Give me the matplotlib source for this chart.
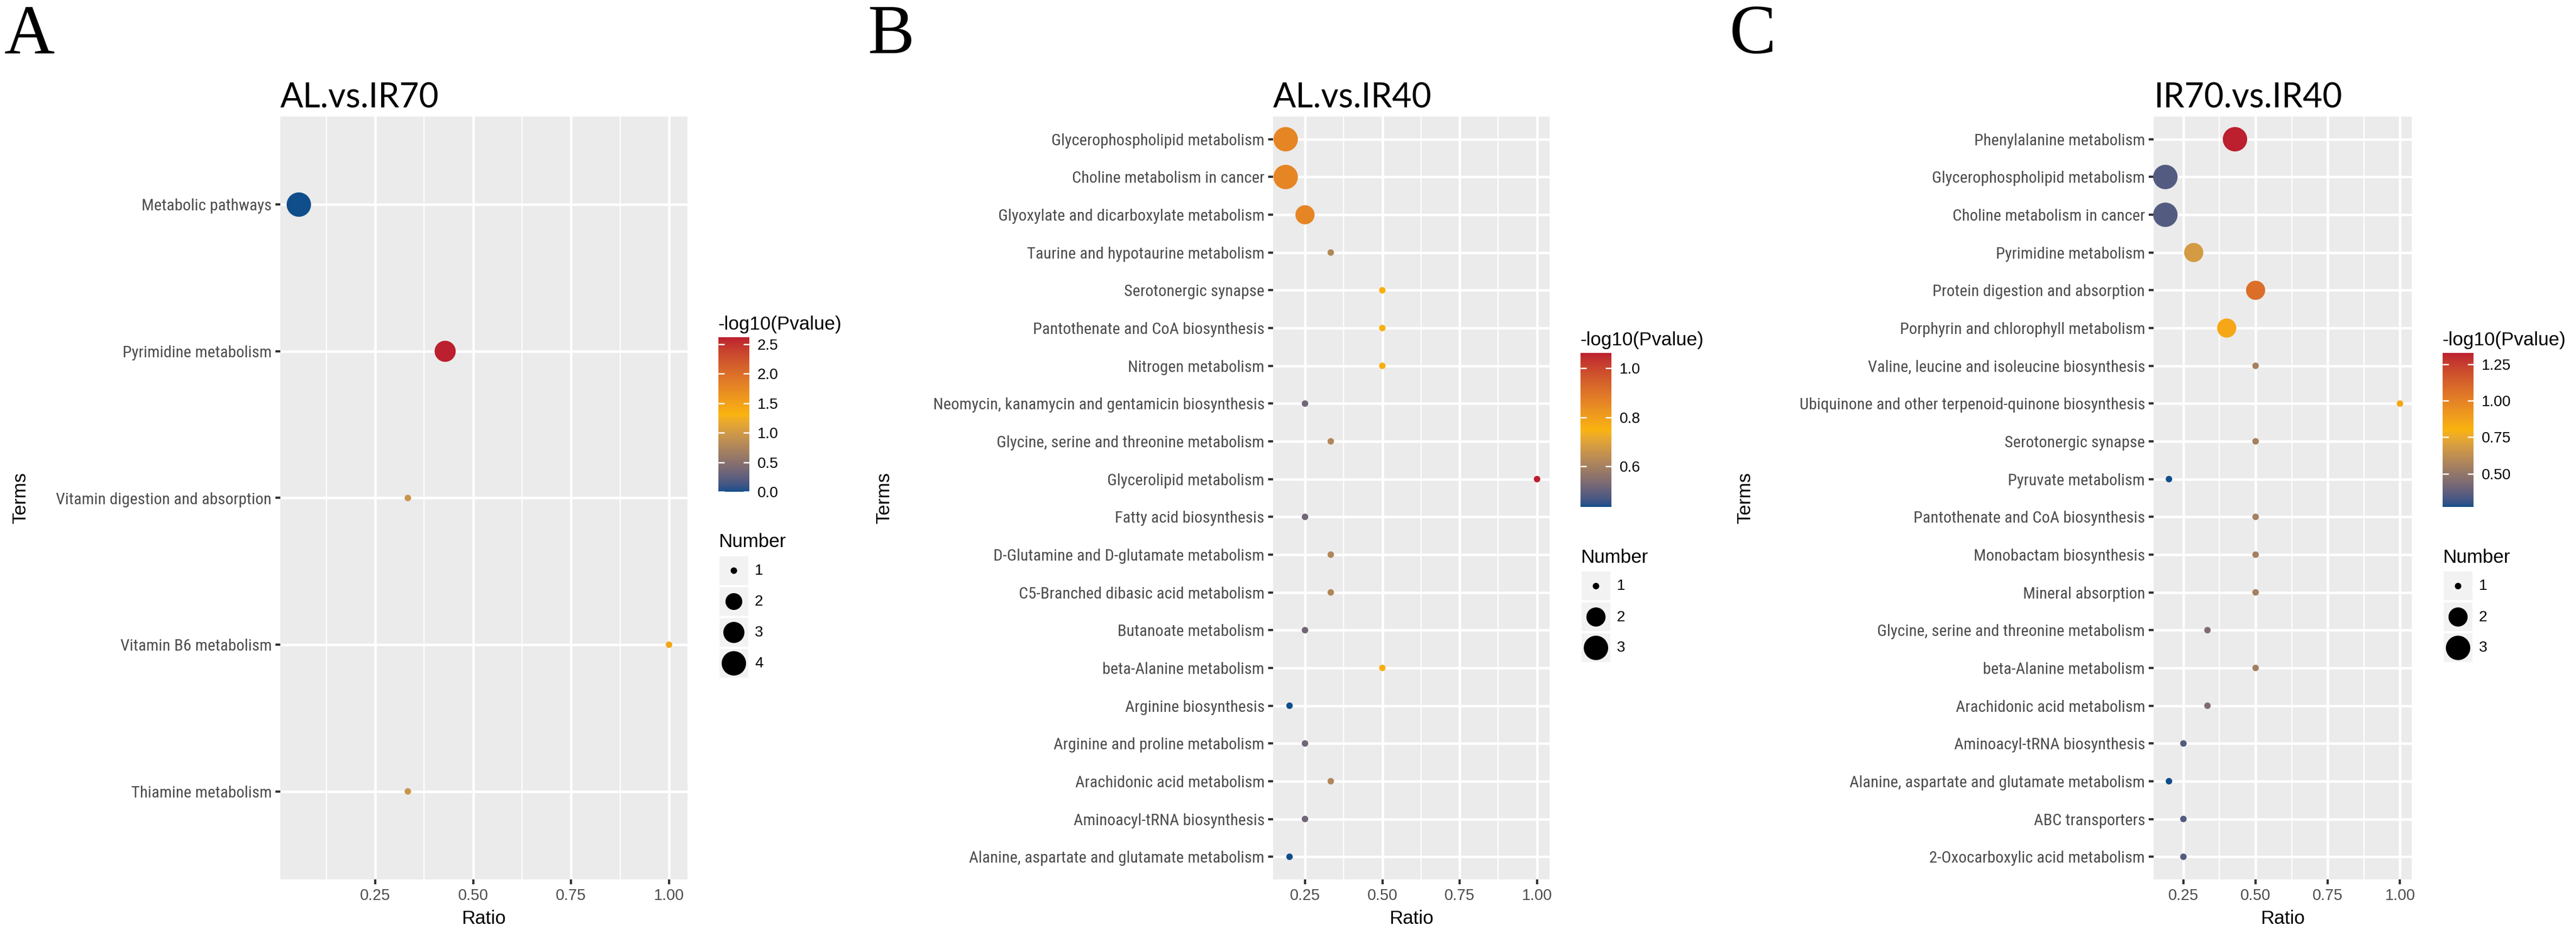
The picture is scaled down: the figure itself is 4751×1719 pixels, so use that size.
import numpy as np
import matplotlib
matplotlib.use("Agg")
import matplotlib.pyplot as plt
from matplotlib import font_manager as fm
from matplotlib.colors import ListedColormap, Normalize, to_rgb
from matplotlib.cm import ScalarMappable
from matplotlib.patches import Rectangle
from matplotlib.ticker import MultipleLocator

plt.rcParams['font.family'] = ['Liberation Sans', 'DejaVu Sans']

W, H = 4751, 1719
DPI = 300

# ---- panel A : AL.vs.IR70
terms_a = ["Metabolic pathways", "Pyrimidine metabolism",
           "Vitamin digestion and absorption", "Vitamin B6 metabolism",
           "Thiamine metabolism"]
ratio_a = [0.055, 3/7, 1/3, 1.0, 1/3]
number_a = [4, 3, 1, 1, 1]
logp_a = [0.0, 2.62, 0.95, 1.45, 0.95]

# ---- panel B : AL.vs.IR40
terms_b = ["Glycerophospholipid metabolism", "Choline metabolism in cancer",
           "Glyoxylate and dicarboxylate metabolism", "Taurine and hypotaurine metabolism",
           "Serotonergic synapse", "Pantothenate and CoA biosynthesis",
           "Nitrogen metabolism", "Neomycin, kanamycin and gentamicin biosynthesis",
           "Glycine, serine and threonine metabolism", "Glycerolipid metabolism",
           "Fatty acid biosynthesis", "D-Glutamine and D-glutamate metabolism",
           "C5-Branched dibasic acid metabolism", "Butanoate metabolism",
           "beta-Alanine metabolism", "Arginine biosynthesis",
           "Arginine and proline metabolism", "Arachidonic acid metabolism",
           "Aminoacyl-tRNA biosynthesis", "Alanine, aspartate and glutamate metabolism"]
ratio_b = [0.1875, 0.1875, 0.25, 1/3, 0.5, 0.5, 0.5, 0.25, 1/3, 1.0,
           0.25, 1/3, 1/3, 0.25, 0.5, 0.2, 0.25, 1/3, 0.25, 0.2]
number_b = [3, 3, 2, 1, 1, 1, 1, 1, 1, 1, 1, 1, 1, 1, 1, 1, 1, 1, 1, 1]
logp_b = [0.86, 0.86, 0.86, 0.62, 0.76, 0.76, 0.76, 0.52, 0.62, 1.064,
          0.52, 0.62, 0.62, 0.52, 0.76, 0.434, 0.52, 0.62, 0.52, 0.434]

# ---- panel C : IR70.vs.IR40
terms_c = ["Phenylalanine metabolism", "Glycerophospholipid metabolism",
           "Choline metabolism in cancer", "Pyrimidine metabolism",
           "Protein digestion and absorption", "Porphyrin and chlorophyll metabolism",
           "Valine, leucine and isoleucine biosynthesis",
           "Ubiquinone and other terpenoid-quinone biosynthesis",
           "Serotonergic synapse", "Pyruvate metabolism",
           "Pantothenate and CoA biosynthesis", "Monobactam biosynthesis",
           "Mineral absorption", "Glycine, serine and threonine metabolism",
           "beta-Alanine metabolism", "Arachidonic acid metabolism",
           "Aminoacyl-tRNA biosynthesis", "Alanine, aspartate and glutamate metabolism",
           "ABC transporters", "2-Oxocarboxylic acid metabolism"]
ratio_c = [3/7, 0.1875, 0.1875, 2/7, 0.5, 0.4, 0.5, 1.0, 0.5, 0.2,
           0.5, 0.5, 0.5, 1/3, 0.5, 1/3, 0.25, 0.2, 0.25, 0.25]
number_c = [3, 3, 3, 2, 2, 2, 1, 1, 1, 1, 1, 1, 1, 1, 1, 1, 1, 1, 1, 1]
logp_c = [1.33, 0.35, 0.35, 0.68, 1.08, 0.85, 0.55, 0.85, 0.55, 0.27,
          0.55, 0.55, 0.55, 0.45, 0.55, 0.45, 0.35, 0.27, 0.35, 0.35]

# colour stops (low, mid, high), interpolated in Lab like ggplot
stops = ["#104E8B", "#FAB40C", "#BC1F2E"]

M = np.array([[0.4124, 0.3576, 0.1805],
              [0.2126, 0.7152, 0.0722],
              [0.0193, 0.1192, 0.9505]])
WHITE = np.array([0.95047, 1.0, 1.08883])


def srgb2lab(c):
    c = np.asarray(c, float)
    lin = np.where(c <= 0.04045, c / 12.92, ((c + 0.055) / 1.055) ** 2.4)
    xyz = M @ lin / WHITE
    f = np.where(xyz > 0.008856, np.cbrt(xyz), 7.787 * xyz + 16 / 116)
    return np.array([116 * f[1] - 16, 500 * (f[0] - f[1]), 200 * (f[1] - f[2])])


def lab2srgb(lab):
    L, a, b = lab
    fy = (L + 16) / 116
    f = np.array([fy + a / 500, fy, fy - b / 200])
    xyz = np.where(f ** 3 > 0.008856, f ** 3, (f - 16 / 116) / 7.787) * WHITE
    lin = np.linalg.solve(M, xyz)
    lin = np.clip(lin, 0, None)
    c = np.where(lin <= 0.0031308, 12.92 * lin, 1.055 * lin ** (1 / 2.4) - 0.055)
    return np.clip(c, 0, 1)


labs = [srgb2lab(to_rgb(s)) for s in stops]
cols = []
for t in np.linspace(0, 1, 256):
    if t <= 0.5:
        u = t / 0.5
        lab = labs[0] * (1 - u) + labs[1] * u
    else:
        u = (t - 0.5) / 0.5
        lab = labs[1] * (1 - u) + labs[2] * u
    cols.append(lab2srgb(lab))
cmap = ListedColormap(cols)


# narrow face for the term labels, if one is installed
def pick_narrow():
    for fam in ["Liberation Sans Narrow", "Arial Narrow", "Roboto Condensed",
                "Open Sans Condensed"]:
        try:
            fm.findfont(fm.FontProperties(family=fam), fallback_to_default=False)
            return fam, 7.3
        except ValueError:
            pass
    return "Liberation Sans", 6.3


narrow_fam, narrow_size = pick_narrow()


def size_pt2(v, vmin, vmax):
    # ggplot scale_size: area scaled to range 1..6
    r = 1 + 5 * np.sqrt((np.asarray(v, float) - vmin) / (vmax - vmin))
    d_px = 6.6 * (r + 0.82)
    return (d_px * 72 / DPI) ** 2


fig = plt.figure(figsize=(W / DPI, H / DPI), dpi=DPI)
over = fig.add_axes([0, 0, 1, 1], zorder=10)
over.set_xlim(0, W)
over.set_ylim(H, 0)
over.axis("off")
over.patch.set_alpha(0)

TOP, BOT = 215, 1622


def panel(left, width, terms, ratio, number, logp, title, cticks, clabels,
          letter, letter_x, terms_x):
    ax = fig.add_axes([left / W, 1 - BOT / H, width / W, (BOT - TOP) / H])
    n = len(terms)
    y = np.arange(n)
    lo, hi = min(ratio), max(ratio)
    ax.set_xlim(lo - 0.05 * (hi - lo), hi + 0.05 * (hi - lo))
    ax.set_ylim(n - 1 + 0.6, -0.6)
    ax.set_facecolor("#EBEBEB")
    for s in ax.spines.values():
        s.set_visible(False)
    ax.set_xticks([0.25, 0.5, 0.75, 1.0])
    ax.set_xticklabels(["0.25", "0.50", "0.75", "1.00"])
    ax.xaxis.set_minor_locator(MultipleLocator(0.125))
    ax.set_yticks(y)
    ax.set_yticklabels(terms, family=narrow_fam, fontsize=narrow_size)
    ax.tick_params(which="major", length=2.1, width=1.0, color="#333333",
                   labelcolor="#4D4D4D", pad=1.7)
    ax.tick_params(axis="x", labelsize=6.9)
    ax.tick_params(which="minor", length=0)
    ax.grid(True, which="major", color="white", lw=1.09)
    ax.grid(True, which="minor", axis="x", color="white", lw=0.54)
    ax.set_axisbelow(True)

    nmin, nmax = min(number), max(number)
    norm = Normalize(min(logp), max(logp))
    ax.scatter(ratio, y, s=size_pt2(number, nmin, nmax), c=logp, cmap=cmap,
               norm=norm, edgecolors="none", zorder=3, clip_on=False)

    ax.set_xlabel("Ratio", fontsize=8.4, labelpad=3)
    ax.set_title(title, loc="left", pad=4, fontsize=15, family="Lato")
    fig.text(letter_x / W, 1 - 98 / H, letter, family="Liberation Serif",
             fontsize=31, va="baseline")
    fig.text(terms_x / W, 1 - 918 / H, "Terms", rotation=90, fontsize=8.4,
             ha="center", va="center")

    # legends
    keys = list(range(nmin, nmax + 1))
    nk = len(keys)
    gx = left + width + 57
    y0 = (TOP + BOT) / 2 - (393 + 57 * nk) / 2
    over.text(gx, y0, "-log10(Pvalue)", fontsize=8.4, va="baseline")
    cax = fig.add_axes([gx / W, 1 - (y0 + 299) / H, 57 / W, 285 / H])
    cb = fig.colorbar(ScalarMappable(norm=norm, cmap=cmap), cax=cax)
    cb.outline.set_visible(False)
    cb.set_ticks(cticks, labels=clabels)
    cax.tick_params(direction="in", left=True, right=True, color="white",
                    length=2.7, width=0.6, labelsize=6.7, pad=3.5)
    over.text(gx, y0 + 401, "Number", fontsize=8.4, va="baseline")
    ky = y0 + 418
    for i, k in enumerate(keys):
        over.add_patch(Rectangle((gx + 2, ky + 57 * i), 53, 53,
                                 facecolor="#F2F2F2", edgecolor="none"))
        over.scatter([gx + 28.5], [ky + 57 * i + 26.5],
                     s=size_pt2([k], nmin, nmax), color="black",
                     edgecolors="none")
        over.text(gx + 67, ky + 57 * i + 27, str(k), fontsize=6.7, va="center")


panel(517, 751, terms_a, ratio_a, number_a, logp_a, "AL.vs.IR70",
      [0, 0.5, 1.0, 1.5, 2.0, 2.5], ["0.0", "0.5", "1.0", "1.5", "2.0", "2.5"],
      "A", 8, 38)
panel(2348, 510, terms_b, ratio_b, number_b, logp_b, "AL.vs.IR40",
      [0.6, 0.8, 1.0], ["0.6", "0.8", "1.0"], "B", 1600, 1631)
panel(3972, 476, terms_c, ratio_c, number_c, logp_c, "IR70.vs.IR40",
      [0.5, 0.75, 1.0, 1.25], ["0.50", "0.75", "1.00", "1.25"], "C", 3190, 3219)

fig.savefig("out.png", dpi=DPI)
